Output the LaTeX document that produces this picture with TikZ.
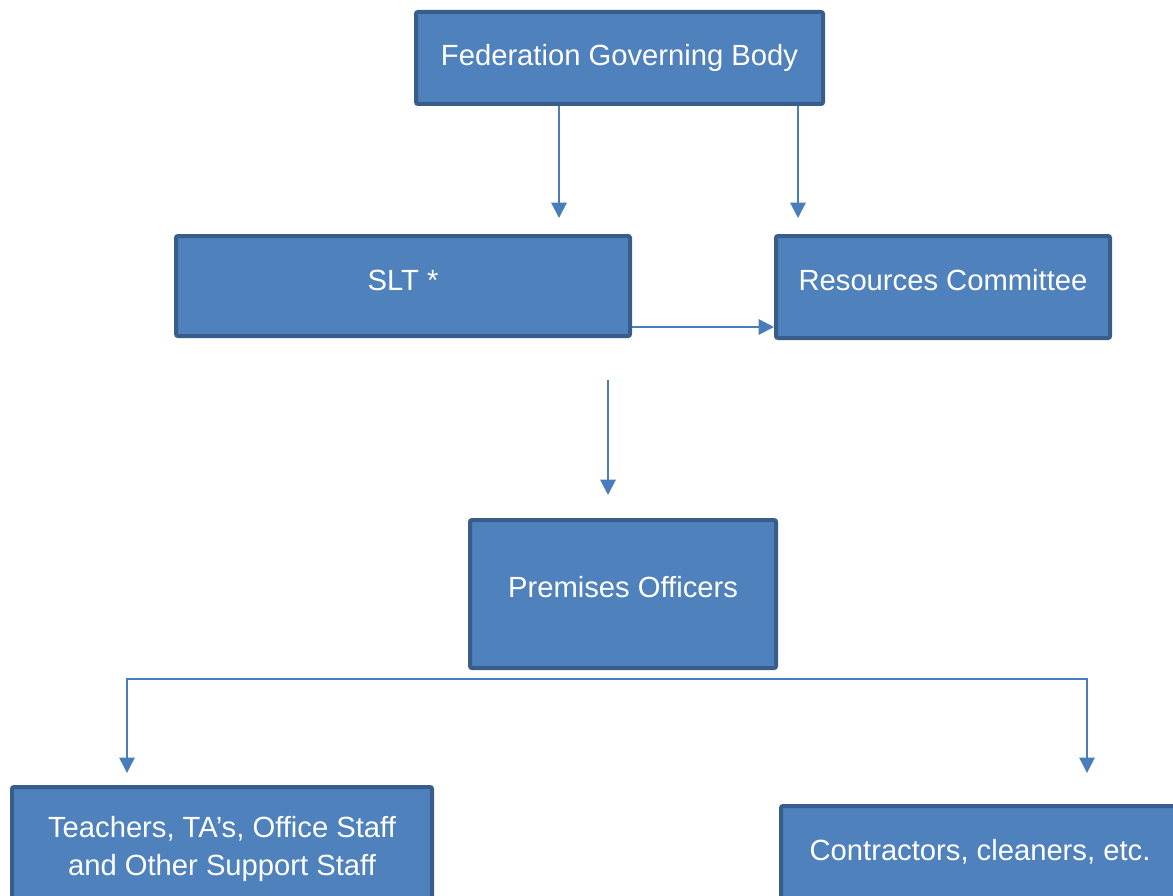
\documentclass[tikz,border=0pt]{standalone}
\usepackage{fontspec}
\setmainfont{Liberation Sans}
\usetikzlibrary{arrows.meta}
\definecolor{boxfill}{RGB}{79,129,189}
\definecolor{boxline}{RGB}{56,93,138}
\definecolor{linkblue}{RGB}{74,126,187}
\tikzset{every picture/.style={line width=0.75pt}}
\tikzset{
  orgbox/.style={draw=boxline, fill=boxfill, line width=3pt, rounded corners=1.5pt, text=white,
    font=\fontsize{21.9}{28.5}\selectfont, align=center, inner sep=0pt},
  raised/.style={text height=15.7pt, text depth=#1},
  raised/.default=9pt,
  link/.style={draw=linkblue, line width=1.5pt, -{Triangle[length=11.5pt,width=11.5pt]}},
}
\begin{document}
\begin{tikzpicture}[x=0.75pt,y=0.75pt,yscale=-1,xscale=1]
    \useasboundingbox (0,0) rectangle (1173,895);
    % Boxes
    \node[orgbox, minimum width=305.25pt, minimum height=69pt] (fgb) at (619.5,58) {Federation Governing Body};
    \node[orgbox, raised, minimum width=340.5pt, minimum height=75pt] (slt) at (403,286) {SLT *};
    \node[orgbox, raised=10.5pt, minimum width=250.5pt, minimum height=76.5pt] (res) at (943,287) {Resources Committee};
    \node[orgbox, raised=10.5pt, minimum width=229.5pt, minimum height=111pt] (prem) at (623,594) {Premises Officers};
    \node[orgbox, minimum width=315pt, minimum height=93pt] (staff) at (222,849) {Teachers, TA’s, Office Staff\\and Other Support Staff};
    \node[orgbox, raised=24pt, minimum width=298.5pt, minimum height=90pt] (contr) at (980,866) {Contractors, cleaners, etc.};
    % Free ends
    \coordinate (gsl) at (559,218);
    \coordinate (grc) at (798,218);
    \coordinate (ftop) at (608,380);
    \coordinate (fend) at (608,495);
    \coordinate (tleft) at (127,773);
    \coordinate (tright) at (1087,773);
    \coordinate (hbar) at (0,679);
    % Connections
    \draw[link] (fgb.south -| gsl) -- (gsl);
    \draw[link] (fgb.south -| grc) -- (grc);
    \draw[link] (slt.east |- 0,327) -- (res.west |- 0,327);
    \draw[link] (ftop) -- (fend);
    \draw[link, line width=1.1pt, {Triangle[length=11.5pt,width=11.5pt]}-{Triangle[length=11.5pt,width=11.5pt]}] (tleft) |- (tright |- hbar) -- (tright);
\end{tikzpicture}
\end{document}
